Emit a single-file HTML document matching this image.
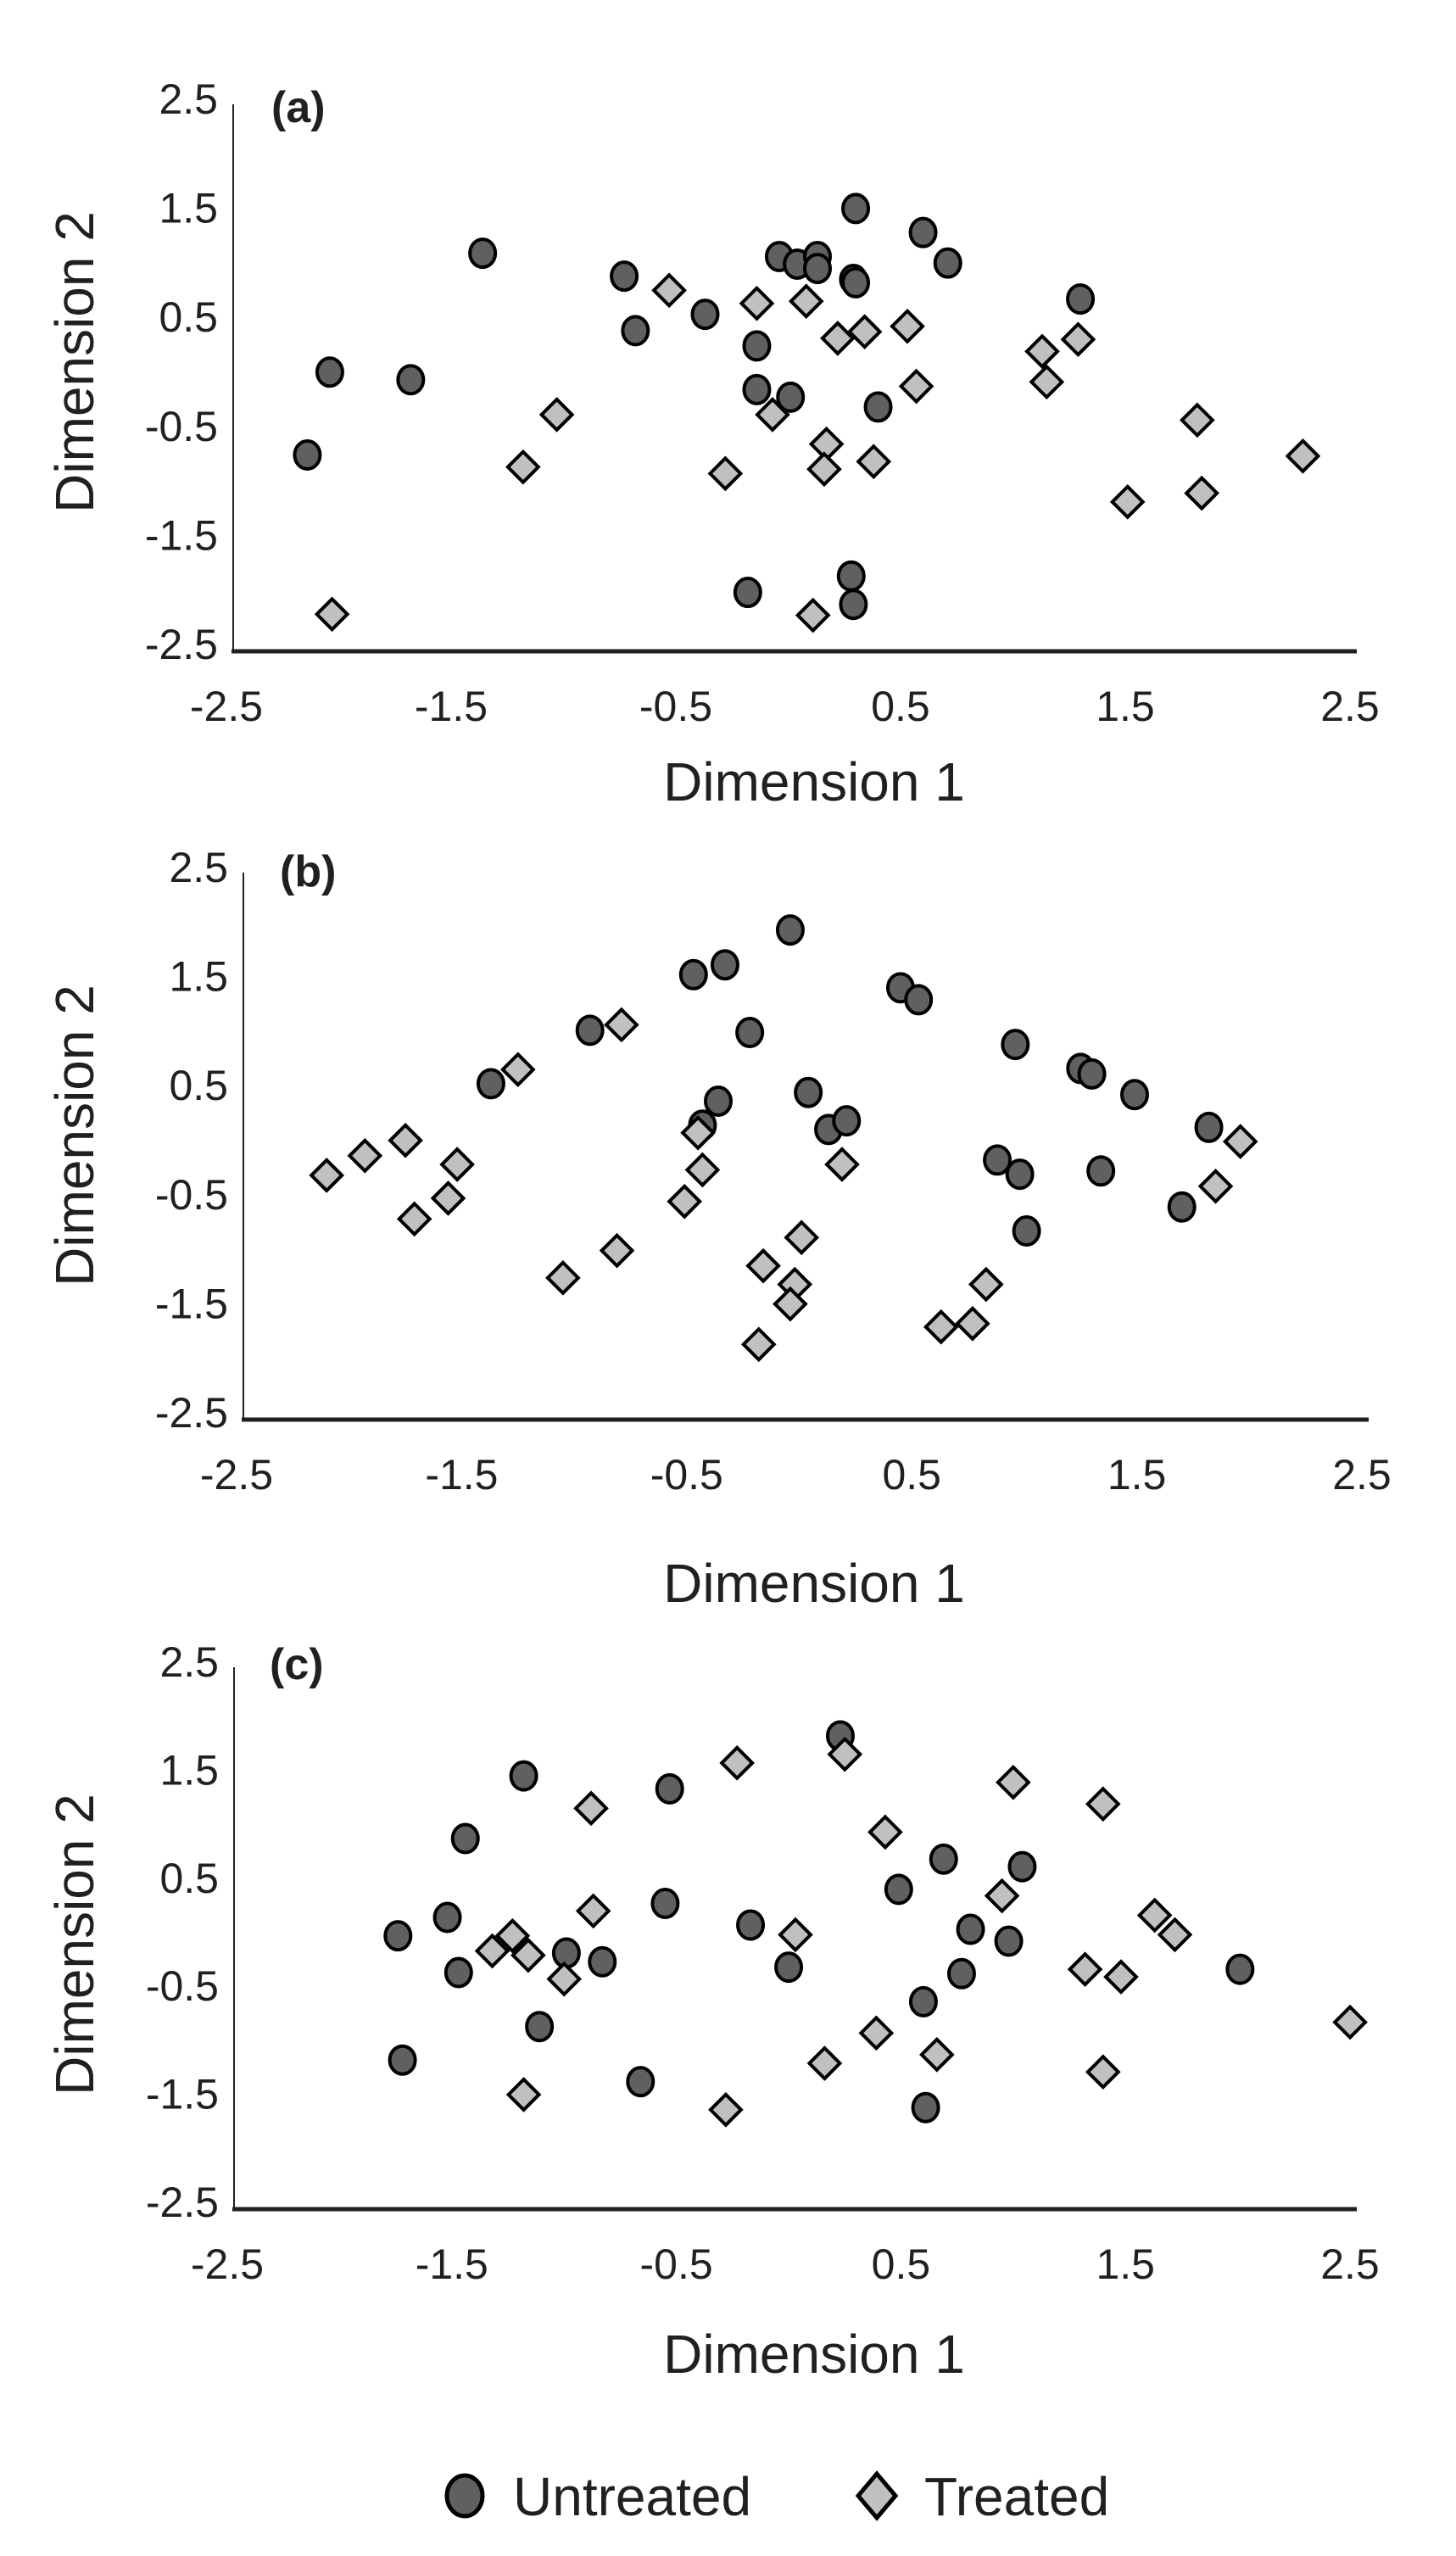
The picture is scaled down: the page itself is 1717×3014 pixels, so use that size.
<!DOCTYPE html>
<html><head><meta charset="utf-8"><style>
html,body{margin:0;padding:0;background:#fff;}
svg{display:block;font-family:"Liberation Sans",Arial,sans-serif;}
</style></head><body>
<svg id="fig" width="1717" height="3014" viewBox="0 0 1717 3014" xmlns="http://www.w3.org/2000/svg"></svg>
<script>
const tickValues = [-2.5, -1.5, -0.5, 0.5, 1.5, 2.5];
const tickLabels = ["-2.5", "-1.5", "-0.5", "0.5", "1.5", "2.5"];
const panelLabels = ["(a)", "(b)", "(c)"];

const aUntreatedX = [-2.17,-2.07,-1.71,-1.39,-0.76,-0.71,-0.40,-0.17,-0.17,-0.02,-0.07,0.01,0.10,0.10,0.26,0.27,0.27,0.57,0.68,0.37,1.27,-0.21,0.25,0.26];
const aUntreatedY = [-0.70,0.06,-0.01,1.15,0.94,0.44,0.59,0.30,-0.10,-0.17,1.12,1.05,1.12,1.01,0.91,0.88,1.56,1.34,1.06,-0.26,0.73,-1.96,-1.81,-2.07];
const aTreatedX = [-2.06,-1.21,-1.06,-0.56,-0.31,-0.17,-0.10,0.05,0.14,0.13,0.08,0.19,0.31,0.50,0.54,0.35,1.10,1.12,1.26,1.48,1.79,1.81,2.26];
const aTreatedY = [-2.16,-0.81,-0.33,0.81,-0.87,0.69,-0.33,0.71,-0.60,-0.83,-2.17,0.37,0.43,0.48,-0.07,-0.76,0.25,-0.03,0.36,-1.13,-0.38,-1.05,-0.71];

const bUntreatedX = [-1.40,-0.96,-0.50,-0.36,-0.25,-0.07,-0.39,-0.46,0.01,0.10,0.18,0.42,0.50,0.93,1.22,1.27,1.46,1.79,0.85,0.95,1.31,1.67,0.98];
const bUntreatedY = [0.58,1.07,1.58,1.67,1.05,1.99,0.42,0.20,0.50,0.16,0.24,1.46,1.35,0.94,0.72,0.67,0.48,0.18,-0.12,-0.25,-0.22,-0.55,-0.77];
const bTreatedX = [-2.13,-1.96,-1.78,-1.55,-1.59,-1.74,-1.28,-0.82,-1.08,-0.84,-0.48,-0.46,-0.54,0.16,-0.02,-0.19,-0.05,-0.07,-0.21,0.60,0.74,0.80,1.82,1.93];
const bTreatedY = [-0.26,-0.08,0.06,-0.16,-0.47,-0.66,0.71,1.12,-1.20,-0.95,0.13,-0.21,-0.50,-0.16,-0.83,-1.09,-1.26,-1.44,-1.81,-1.65,-1.62,-1.26,-0.36,0.05];

const cUntreatedX = [-1.77,-1.55,-1.50,-1.47,-1.21,-1.14,-1.75,-1.02,-0.86,-0.69,-0.58,-0.56,-0.20,-0.03,0.20,0.46,0.66,1.01,0.78,0.95,0.74,0.57,0.58,1.98];
const cUntreatedY = [0.03,0.20,-0.31,0.93,1.51,-0.81,-1.12,-0.13,-0.21,-1.32,0.33,1.39,0.13,-0.26,1.88,0.46,0.74,0.67,0.09,-0.02,-0.32,-0.58,-1.56,-0.28];
const cTreatedX = [-1.35,-1.26,-1.19,-1.03,-1.21,-0.91,-0.90,-0.26,-0.31,0.00,0.22,0.40,0.36,0.13,0.63,0.92,0.97,1.37,1.37,1.29,1.45,1.60,1.69,2.47];
const cTreatedY = [-0.11,0.03,-0.15,-0.37,-1.44,1.21,0.26,1.63,-1.58,0.04,1.71,0.99,-0.87,-1.15,-1.07,0.40,1.45,1.25,-1.23,-0.28,-0.35,0.22,0.04,-0.77];

const NS = "http://www.w3.org/2000/svg";
const svg = document.getElementById('fig');
function mk(tag, attrs, parent){
  const e = document.createElementNS(NS, tag);
  for (const k in attrs) e.setAttribute(k, attrs[k]);
  (parent||svg).appendChild(e);
  return e;
}
const panels = [
  {left:275,right:1600,top:125,bottom:768,ux:aUntreatedX,uy:aUntreatedY,tx:aTreatedX,ty:aTreatedY,labX:320,labY:126,d1Y:921,d2Y:427},
  {left:287,right:1614,top:1031,bottom:1674,ux:bUntreatedX,uy:bUntreatedY,tx:bTreatedX,ty:bTreatedY,labX:330,labY:1027,d1Y:1866,d2Y:1339},
  {left:276,right:1600,top:1968,bottom:2605,ux:cUntreatedX,uy:cUntreatedY,tx:cTreatedX,ty:cTreatedY,labX:318,labY:1962,d1Y:2775,d2Y:2293}
];
panels.forEach((p,i)=>{
  const g = mk('g',{});
  
  
  const xs = v => p.left + (v + 2.5) / 5 * (p.right - p.left);
  const ys = v => p.bottom - (v + 2.5) / 5 * (p.bottom - p.top);
  const ya = mk('line',{x1:p.left,y1:p.top-2,x2:p.left,y2:p.bottom,stroke:'#231f20','stroke-width':2},g);
  
  
  const xa = mk('line',{x1:p.left-2,y1:p.bottom,x2:p.right,y2:p.bottom,stroke:'#231f20','stroke-width':5},g);
  
  
  tickValues.forEach((v,k)=>{
    const ty = mk('text',{x:p.left-18,y:ys(v)+9,'text-anchor':'end','font-size':50,fill:'#231f20'},g);
    ty.textContent = tickLabels[k];
    
    
    const tx = mk('text',{x:xs(v)-8,y:p.bottom+82,'text-anchor':'middle','font-size':50,fill:'#231f20'},g);
    tx.textContent = tickLabels[k];
    
    
  });
  const pl = mk('text',{x:p.labX,y:p.labY+18,'font-size':52,'font-weight':'bold',fill:'#231f20'},g);
  pl.textContent = panelLabels[i];
  
  
  const d1 = mk('text',{x:960,y:p.d1Y+23,'text-anchor':'middle','font-size':64,fill:'#231f20'},g);
  d1.textContent = 'Dimension 1';
  
  
  const d2 = mk('text',{x:0,y:0,'text-anchor':'middle','font-size':64,fill:'#231f20',transform:`translate(110,${p.d2Y}) rotate(-90)`},g);
  d2.textContent = 'Dimension 2';
  
  
  p.ux.forEach((v,k)=>{
    const c = mk('ellipse',{cx:xs(v),cy:ys(p.uy[k]),rx:15,ry:16.5,fill:'#606060',stroke:'#000','stroke-width':4},g);
    
    
  });
  p.tx.forEach((v,k)=>{
    const cx = xs(v), cy = ys(p.ty[k]), r = 18;
    const d = mk('polygon',{points:`${cx},${cy-r} ${cx+r},${cy} ${cx},${cy+r} ${cx-r},${cy}`,fill:'#c0c0c0',stroke:'#000','stroke-width':4},g);
    
    
  });
});
// legend
const lg = mk('g',{});


const lc = mk('ellipse',{cx:548,cy:2943,rx:21,ry:24,fill:'#606060',stroke:'#000','stroke-width':5},lg);


const lt1 = mk('text',{x:605,y:2966,'font-size':64,fill:'#231f20'},lg);
lt1.textContent = 'Untreated';


const ld = mk('polygon',{points:'1034,2917 1056,2943 1034,2969 1012,2943',fill:'#c0c0c0',stroke:'#000','stroke-width':5},lg);


const lt2 = mk('text',{x:1090,y:2966,'font-size':64,fill:'#231f20'},lg);
lt2.textContent = 'Treated';


</script>
</body></html>
